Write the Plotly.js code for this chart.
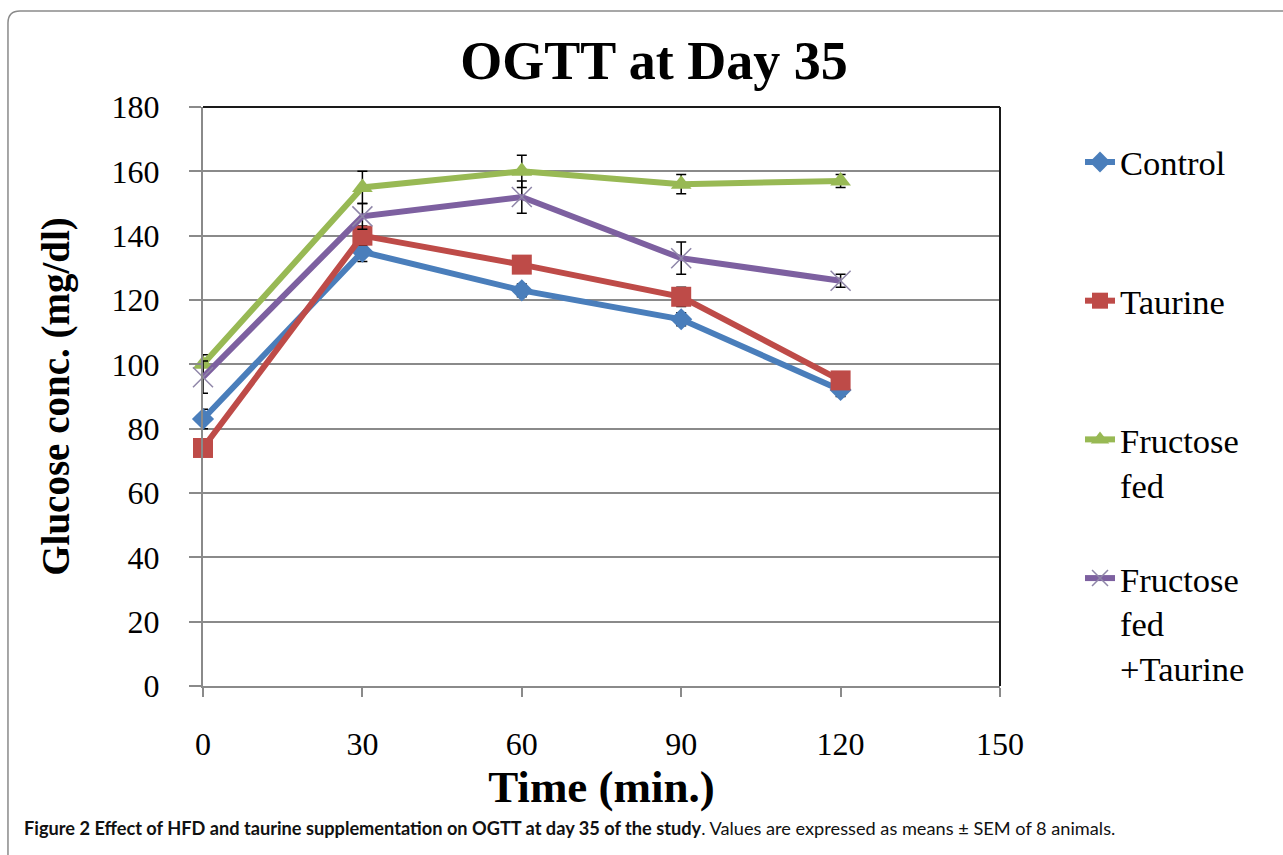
<!DOCTYPE html>
<html>
<head>
<meta charset="utf-8">
<script src="https://cdn.plot.ly/plotly-3.0.1.min.js"></script>
<style>
html,body{margin:0;padding:0;background:#fff;}
#chart{width:1283px;height:855px;}
</style>
</head>
<body>
<div id="chart"></div>
<script>
// ---- data ----
const timeMin = [0, 30, 60, 90, 120];
const seriesNames = ["Control<br> ", "Taurine<br> ", "Fructose<br>fed", "Fructose<br>fed<br>+Taurine"];
const controlVals = [83, 135, 123, 114, 92];
const controlSem = [3, 3, 2, 2, 2];
const taurineVals = [74, 140, 131, 121, 95];
const taurineSem = [2, 3, 2, 3, 2];
const fructoseVals = [100, 155, 160, 156, 157];
const fructoseSem = [3, 5, 5, 3, 2];
const fructTaurVals = [96, 146, 152, 133, 126];
const fructTaurSem = [5, 4, 5, 5, 2];
const yTicks = [0, 20, 40, 60, 80, 100, 120, 140, 160, 180];
const xTicks = [0, 30, 60, 90, 120, 150];

const serif = "Liberation Serif, Times New Roman, serif";

function mk(name, y, err, color, symbol, size, mline) {
  return {
    x: timeMin, y: y, name: name, type: "scatter", mode: "lines+markers",
    legendgroup: name, cliponaxis: false,
    line: {color: color, width: 6},
    marker: {symbol: symbol, size: size, color: color, line: mline || {width: 0}},
    error_y: {type: "data", array: err, visible: true, color: "#000", thickness: 1.5, width: 5}
  };
}

const traces = [
  mk(seriesNames[0], controlVals, controlSem, "#4A7EBB", "diamond", 17),
  mk(seriesNames[1], taurineVals, taurineSem, "#BE4B48", "square", 20),
  mk(seriesNames[2], fructoseVals, fructoseSem, "#98B954", "triangle-up", 18),
  mk(seriesNames[3], fructTaurVals, fructTaurSem, "#7D60A0", "x-thin", 20, {color: "#8f86a8", width: 1.5})
];

const layout = {
  width: 1283, height: 855,
  margin: {l: 203, r: 283, t: 107, b: 169},
  paper_bgcolor: "#fff", plot_bgcolor: "#fff",
  showlegend: true,
  title: {
    text: "<b>OGTT at Day 35</b>",
    font: {family: serif, size: 54, color: "#000"},
    x: 0.5097, xanchor: "center", y: 0.93, yanchor: "middle"
  },
  xaxis: {
    range: [0, 150], tickvals: xTicks, ticktext: xTicks.map(String),
    showgrid: false, zeroline: false,
    showline: true, linecolor: "#8a8a8a", linewidth: 2,
    ticks: "outside", ticklen: 9, tickwidth: 2, tickcolor: "#8a8a8a",
    ticklabelstandoff: 20,
    tickfont: {family: serif, size: 32, color: "#000"},
    title: {text: "<b>Time (min.)</b>", font: {family: serif, size: 45, color: "#000"}, standoff: 0}
  },
  yaxis: {
    range: [0, 180], tickvals: yTicks, ticktext: yTicks.map(String),
    showgrid: true, gridcolor: "#8a8a8a", gridwidth: 2,
    zeroline: false,
    showline: true, linecolor: "#8a8a8a", linewidth: 2,
    ticks: "outside", ticklen: 12, tickwidth: 2, tickcolor: "#8a8a8a",
    ticklabelstandoff: 23,
    tickfont: {family: serif, size: 32, color: "#000"},
    title: {text: "<b>Glucose conc. (mg/dl)</b>", font: {family: serif, size: 39, color: "#000"}, standoff: 30}
  },
  legend: {
    x: 1.1004, xanchor: "left", y: 0.955, yanchor: "top",
    font: {family: serif, size: 34.5, color: "#000"},
    valign: "top", tracegroupgap: 46, bgcolor: "rgba(0,0,0,0)",
    itemclick: false
  },
  shapes: [
    {type: "line", xref: "paper", yref: "paper", x0: 0, x1: 1, y0: 1, y1: 1, line: {color: "#1a1a1a", width: 2}},
    {type: "line", xref: "paper", yref: "paper", x0: 1, x1: 1, y0: 0, y1: 1, line: {color: "#1a1a1a", width: 2}},
    {type: "path", xref: "paper", yref: "paper",
     path: "M -0.2447,-0.32 V 1.1451 Q -0.2447,1.1658 -0.2296,1.1658 H 1.38",
     line: {color: "#8a8a8a", width: 1.5}}
  ],
  annotations: [{
    xref: "paper", yref: "paper", x: -0.2271, y: -0.2453, xanchor: "left", yanchor: "middle",
    showarrow: false, align: "left",
    text: "<b>Figure 2 Effect of HFD and taurine supplementation on OGTT at day 35 of the study</b>. Values are expressed as means ± SEM of 8 animals.",
    font: {family: "Lato, Open Sans, sans-serif", size: 18.2, color: "#111"}
  }]
};

Plotly.newPlot("chart", traces, layout, {displayModeBar: false, staticPlot: true});
</script>
</body>
</html>
